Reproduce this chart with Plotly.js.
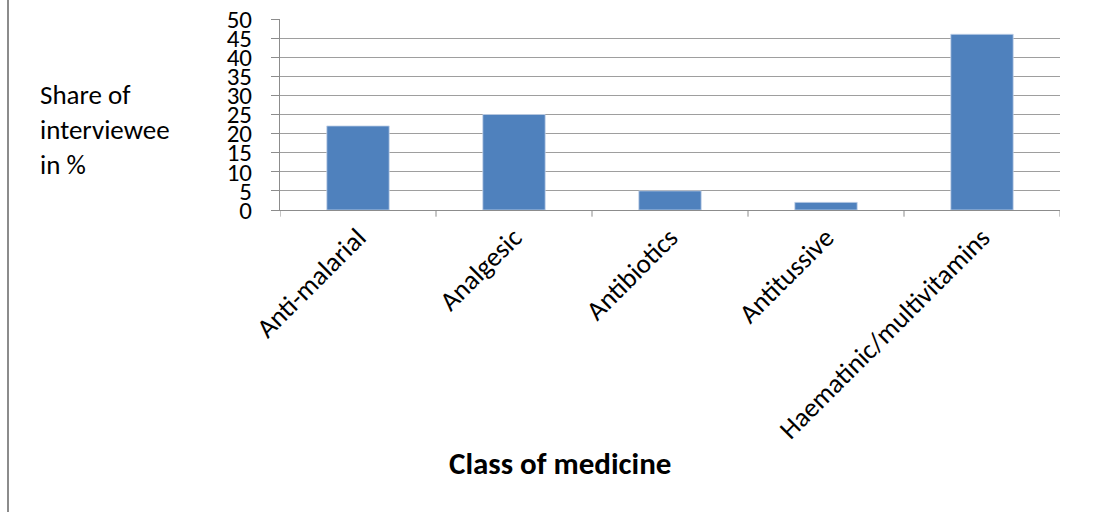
<!DOCTYPE html>
<html>
<head>
<meta charset="utf-8">
<script src="https://cdn.plot.ly/plotly-3.0.1.min.js"></script>
<style>
html,body{margin:0;padding:0;background:#fff;}
#chart{width:1107px;height:512px;}
#edge{position:absolute;left:7px;top:0;width:2px;height:512px;background:#8c8c8c;}
</style>
</head>
<body>
<div id="chart"></div>
<div id="edge"></div>
<script>
const categories = ["Anti-malarial", "Analgesic", "Antibiotics", "Antitussive", "Haematinic/multivitamins"];
const shares = [22, 25, 5, 2, 46];
const yTickValues = [0, 5, 10, 15, 20, 25, 30, 35, 40, 45, 50];

const fontFam = "Carlito, Calibri, 'Open Sans', 'Liberation Sans', sans-serif";

const trace = {
  type: "bar",
  x: categories,
  y: shares,
  marker: {color: "#4f81bd", line: {color: "#c5d4ea", width: 0.8}},
  hoverinfo: "x+y"
};

const layout = {
  width: 1107,
  height: 512,
  margin: {l: 280, r: 47, t: 19, b: 302},
  paper_bgcolor: "#ffffff",
  plot_bgcolor: "#ffffff",
  showlegend: false,
  bargap: 0.6,
  font: {family: fontFam, color: "#000000"},
  xaxis: {
    type: "category",
    tickangle: -45,
    tickfont: {family: fontFam, size: 27, color: "#000"},
    showgrid: false,
    showline: true,
    linecolor: "#8c8c8c",
    linewidth: 1,
    ticks: "",
    zeroline: false,
    fixedrange: true
  },
  yaxis: {
    range: [0, 50],
    tickvals: yTickValues,
    ticktext: yTickValues.map(String),
    tickfont: {family: fontFam, size: 25, color: "#000"},
    showgrid: true,
    gridcolor: "#9e9e9e",
    gridwidth: 1,
    showline: true,
    linecolor: "#8c8c8c",
    linewidth: 1,
    ticks: "outside",
    ticklen: 8,
    tickcolor: "#8c8c8c",
    ticklabelstandoff: 14,
    zeroline: false,
    fixedrange: true
  },
  shapes: [],
  annotations: [
    {
      text: "Share of<br>interviewee<br>in %",
      xref: "paper", yref: "paper",
      x: -0.310, y: 0.42,
      xanchor: "left", yanchor: "middle",
      align: "left",
      showarrow: false,
      font: {family: fontFam, size: 27, color: "#000"}
    },
    {
      text: "<b>Class of medicine</b>",
      xref: "paper", yref: "paper",
      x: 0.359, y: -1.325,
      xanchor: "center", yanchor: "middle",
      showarrow: false,
      font: {family: fontFam, size: 31, color: "#000"}
    }
  ]
};

// category boundary tick marks on x axis
for (let i = 0; i <= categories.length; i++) {
  layout.shapes.push({
    type: "line", xref: "x", yref: "paper",
    x0: i - 0.5, x1: i - 0.5, y0: 0, y1: -0.035,
    line: {color: "#8c8c8c", width: 1}
  });
}
layout.xaxis.range = [-0.5, categories.length - 0.5];

Plotly.newPlot("chart", [trace], layout, {displayModeBar: false, staticPlot: true});
</script>
</body>
</html>
